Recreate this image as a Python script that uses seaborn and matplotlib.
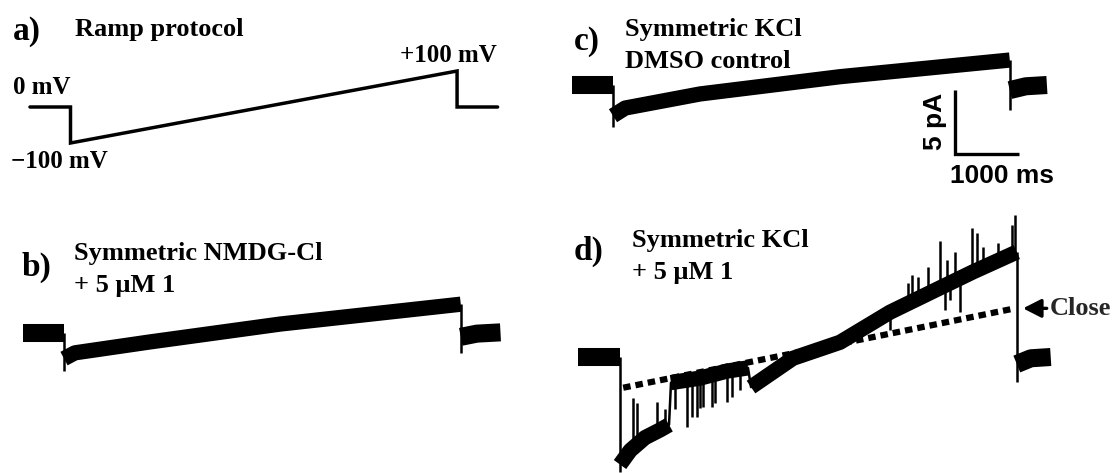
import numpy as np
import matplotlib
matplotlib.use("Agg")
import seaborn as sns
from matplotlib import pyplot as plt

# ---- values (time in ms, current in pA, voltage in mV) ----
protocol_t = [-650, 0, 0, 6200, 6200, 6850]
protocol_mv = [0, 0, -100, 100, 0, 0]

# b) symmetric NMDG-Cl + 5 uM 1
b_pre_t = [-640, 0]
b_pre_pa = [0.0, 0.0]
b_ramp_t = [0, 170, 1340, 3380, 6200]
b_ramp_pa = [-2.0, -1.55, -0.7, 0.7, 2.25]
b_post_t = [6200, 6450, 6820]
b_post_pa = [-0.3, -0.05, 0.05]
b_tips = [-2.95, -1.55]

# c) symmetric KCl, DMSO control
c_pre_t = [-640, 0]
c_pre_pa = [0.0, 0.0]
c_ramp_t = [0, 190, 1360, 3550, 6200]
c_ramp_pa = [-2.4, -1.8, -0.7, 0.65, 1.95]
c_post_t = [6200, 6450, 6780]
c_post_pa = [-0.4, -0.1, 0.0]
c_tips = [-3.3, -1.95]

# d) symmetric KCl + 5 uM 1 (open / closed stretches of the ramp)
d_pre_t = [-650, 0]
d_pre_pa = [0.0, 0.0]
d_open1_t = [0, 160, 390, 625, 766]
d_open1_pa = [-8.4, -7.3, -6.3, -5.7, -5.3]
d_shut_t = [797, 1250, 1672, 2000]
d_shut_pa = [-2.0, -1.65, -1.1, -0.85]
d_open2_t = [2047, 2703, 3438, 4219, 5000, 5516, 6200]
d_open2_pa = [-2.35, -0.1, 1.15, 3.5, 5.4, 6.65, 8.2]
d_post_t = [6200, 6420, 6730]
d_post_pa = [-0.55, -0.1, 0.0]
d_tips = [-9.0, -1.95]
d_close_t = [50, 6170]
d_close_pa = [-2.4, 3.8]
d_spike_t = [203, 266, 578, 703,
             859, 1047, 1125, 1203, 1250, 1297, 1438, 1484, 1672, 1750, 1875,
             4219, 4500, 4563, 4656, 4813, 5000, 5078, 5109, 5156, 5234, 5313,
             5500, 5578, 5672, 5906, 6125, 6172]
d_spike_pa = [-3.2, -3.6, -3.5, -4.1,
              -4.1, -5.5, -4.7, -4.7, -4.0, -3.9, -3.9, -3.6, -3.5, -3.1, -2.6,
              2.1, 5.8, 6.4, 6.25, 7.0, 9.1, 3.7, 7.6, 4.45, 8.2, 3.5,
              10.1, 9.7, 8.6, 8.9, 10.3, 11.1]

scale_ms = 1000
scale_pa = 5

W, H = 1118, 473

sns.set_theme(style="white")
plt.rcParams["font.family"] = ["Liberation Serif", "DejaVu Serif"]
SERIF = ["Liberation Serif", "DejaVu Serif"]
SANS = ["Liberation Sans", "DejaVu Sans"]

fig = plt.figure(figsize=(W / 100, H / 100), dpi=100)

RAMP_LW = 11
BASE_LW = 13
THIN = 1.8


def panel(box, origin, sx, sy):
    # box = (left, top, right, bottom) in image pixels; origin = pixel of (0, 0)
    l, t, r, b = box
    ax = fig.add_axes([l / W, 1 - b / H, (r - l) / W, (b - t) / H])
    x0, y0 = origin
    ax.set_xlim((l - x0) / sx, (r - x0) / sx)
    ax.set_ylim((y0 - b) / sy, (y0 - t) / sy)
    ax.axis("off")
    return ax


def put(x, y, s, size=19, family=SERIF, **kw):
    kw.setdefault("va", "baseline")
    kw.setdefault("ha", "left")
    fig.text(x / W, 1 - y / H, s, fontsize=size, family=family,
             fontweight="bold", color="black", **kw)


def band(ax, tt, yy, lw):
    sns.lineplot(x=tt, y=yy, ax=ax, color="black", linewidth=lw,
                 estimator=None, sort=False, legend=False,
                 solid_capstyle="butt", solid_joinstyle="round")


def trace(ax, pre, ramps, post, tips):
    band(ax, *pre, BASE_LW)
    for tt, yy in ramps:
        band(ax, tt, yy, RAMP_LW)
    band(ax, *post, BASE_LW)
    # thin jumps between stretches and the capacitive steps
    for (t1, y1), (t2, y2) in zip(ramps[:-1], ramps[1:]):
        ax.plot([t1[-1], t2[0]], [y1[-1], y2[0]], color="black", lw=THIN)
    first, last = ramps[0], ramps[-1]
    ax.vlines(first[0][0], tips[0], pre[1][-1], color="black", lw=THIN)
    ax.vlines(last[0][-1], tips[1], last[1][-1], color="black", lw=THIN)


# a) ramp protocol
ax_a = panel((0, 0, 559, 200), (70.5, 107), 0.06235, 0.36)
sns.lineplot(x=protocol_t, y=protocol_mv, ax=ax_a, color="black", linewidth=2.5,
             estimator=None, sort=False, legend=False, solid_joinstyle="miter")

# b)
ax_b = panel((0, 200, 559, 473), (64, 333), 0.064, 12.8)
trace(ax_b, (b_pre_t, b_pre_pa), [(b_ramp_t, b_ramp_pa)], (b_post_t, b_post_pa), b_tips)

# c)
ax_c = panel((560, 0, 1118, 200), (613, 85), 0.064, 12.8)
trace(ax_c, (c_pre_t, c_pre_pa), [(c_ramp_t, c_ramp_pa)], (c_post_t, c_post_pa), c_tips)
bar_t = (955 - 613) / 0.064
bar_lo = (85 - 154) / 12.8
ax_c.plot([bar_t, bar_t, bar_t + scale_ms], [bar_lo + scale_pa, bar_lo, bar_lo],
          color="black", lw=2.4, solid_joinstyle="miter", solid_capstyle="butt")

# d)
ax_d = panel((560, 200, 1118, 473), (620, 357), 0.064, 12.8)
trace(ax_d, (d_pre_t, d_pre_pa),
      [(d_open1_t, d_open1_pa), (d_shut_t, d_shut_pa), (d_open2_t, d_open2_pa)],
      (d_post_t, d_post_pa), d_tips)
all_t = d_open1_t + d_shut_t + d_open2_t
all_pa = d_open1_pa + d_shut_pa + d_open2_pa
base = np.interp(d_spike_t, all_t, all_pa)
ax_d.vlines(d_spike_t, base, d_spike_pa, color="black", lw=THIN)
ax_d.plot(d_close_t, d_close_pa, color="black", lw=4.5, linestyle=(0, (1.2, 0.8)),
          dash_capstyle="butt")
ax_d.annotate("Close", xy=((1023 - 620) / 0.064, d_close_pa[1]),
              xytext=((1050 - 620) / 0.064, d_close_pa[1]),
              ha="left", va="center", fontsize=19, fontweight="bold", family=SERIF,
              arrowprops=dict(arrowstyle="-|>,head_length=0.55,head_width=0.28",
                              color="black", lw=2.4, shrinkA=0, shrinkB=0,
                              mutation_scale=20))

# texts
put(12.6, 40, "a)", size=24)
put(75, 36, "Ramp protocol")
put(12.6, 94, "0 mV", size=18)
put(10.8, 168, "\u2212100 mV", size=18)
put(400, 62, "+100 mV", size=18)

put(21.5, 276, "b)", size=24)
put(73.6, 260, "Symmetric NMDG-Cl")
put(73.6, 292, "+ 5 \u03bcM 1")

put(574, 50, "c)", size=24)
put(625, 36, "Symmetric KCl")
put(625, 68, "DMSO control")
put(935, 121, "5 pA", family=SANS, rotation=90, ha="center", va="center")
put(1002, 176, "1000 ms", family=SANS, ha="center", va="center")

put(574, 260, "d)", size=24)
put(632, 247, "Symmetric KCl")
put(632, 279, "+ 5 \u03bcM 1")

fig.savefig("out.png", dpi=100)
